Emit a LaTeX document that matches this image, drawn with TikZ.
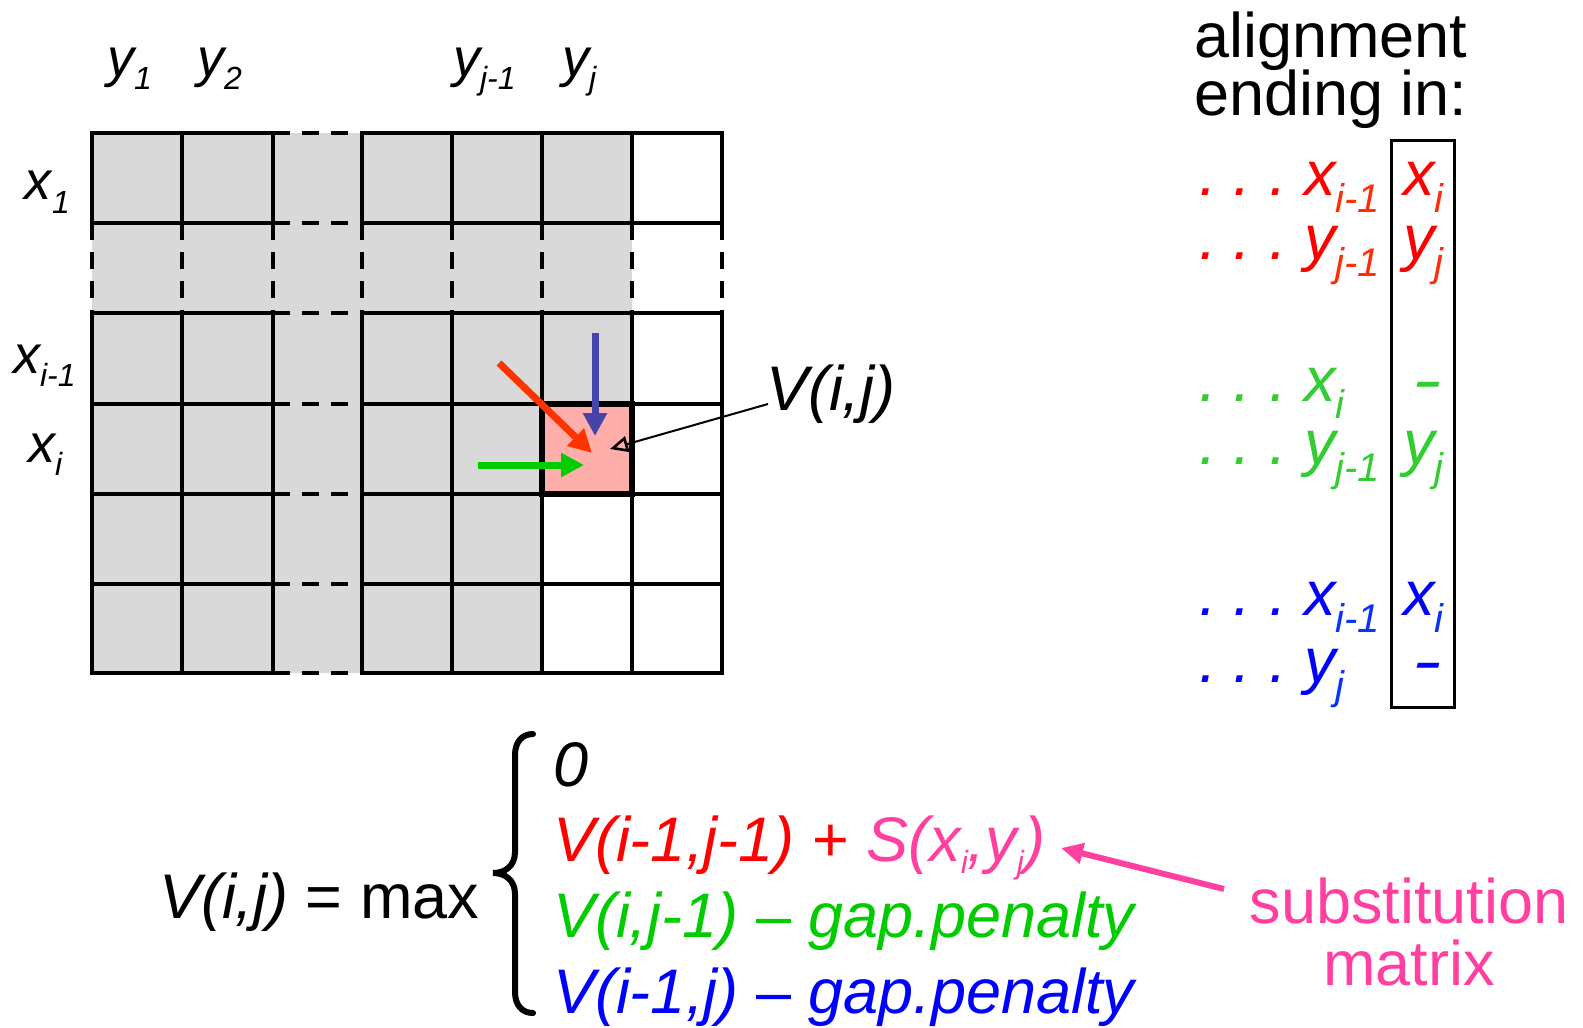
\documentclass[tikz,border=0pt]{standalone}
\usepackage{fontspec}
\usepackage{graphicx}
\setmainfont{Liberation Sans}
\usetikzlibrary{arrows.meta}
\definecolor{cellgray}{RGB}{217,217,217}
\definecolor{cellpink}{RGB}{255,174,170}
\definecolor{arrblue}{RGB}{68,68,170}
\definecolor{arrred}{RGB}{255,51,0}
\definecolor{arrgreen}{RGB}{0,204,0}
\definecolor{fred}{RGB}{255,0,0}
\definecolor{fredsub}{RGB}{255,45,10}
\definecolor{fgreen}{RGB}{0,204,0}
\definecolor{cgreen}{RGB}{51,204,51}
\definecolor{fblue}{RGB}{0,0,255}
\definecolor{fbluesub}{RGB}{10,50,255}
\definecolor{fpink}{RGB}{255,64,160}
\newcommand{\lowsub}[3]{\raisebox{-#1}{\fontsize{#2}{#2}\selectfont #3}}
\newcommand{\lbltxt}{\fontsize{27pt}{30pt}\selectfont\itshape}
\newcommand{\lblsub}[1]{\lowsub{6.5pt}{16pt}{#1}}
\newcommand{\fbig}{\fontsize{31.5pt}{36pt}\selectfont}
\newcommand{\rsub}[1]{\lowsub{8.5pt}{20pt}{#1}}
\newcommand{\fsub}[1]{\lowsub{6pt}{16pt}{#1}}
\newcommand{\gapbar}{\scalebox{1.4}[1]{-}}
\tikzset{
  txt/.style={inner sep=0pt, outer sep=0pt, anchor=base west},
  gridline/.style={line width=2pt, line cap=rect},
  gdash/.style={line width=2pt, dash pattern=on 8.5pt off 6pt},
  fatarrow/.style={line width=3.5pt, -{Triangle[length=11.5pt,width=11.5pt]}},
  ptrarrow/.style={line width=1pt, -{Triangle[open,length=9pt,width=8pt,line width=1.3pt]}},
  pinkarrow/.style={line width=3pt, draw=fpink, -{Triangle[length=11pt,width=10pt]}},
}
\begin{document}
\frenchspacing
\begin{tikzpicture}[x=0.5pt,y=-0.5pt]
\useasboundingbox (0,0) rectangle (1583,1027);
\fill[white] (0,0) rectangle (1583,1027);
% fills
\fill[cellgray] (92,133) rectangle (632,404);
\fill[cellgray] (92,404) rectangle (542,673);
% grid
\foreach \yy in {133,223,313,404,494,584,673}{
  \draw[gridline] (92,\yy) -- (273,\yy);
  \draw[gdash] (273,\yy) -- (362,\yy);
  \draw[gridline] (362,\yy) -- (722,\yy);
}
\foreach \xx in {92,182,273,362,452,542,632,722}{
  \draw[gridline] (\xx,133) -- (\xx,223);
  \draw[gdash] (\xx,223) -- (\xx,313);
  \draw[gridline] (\xx,313) -- (\xx,673);
}
% current cell
\node[draw, line width=3.3pt, fill=cellpink, minimum size=45pt, inner sep=0pt] (vij) at (587,449) {};
% arrows into the cell
\coordinate (bluefrom) at (595,333);
\coordinate (blueto) at (595,436);
\coordinate (redfrom) at (499,363);
\coordinate (redto) at (592,453);
\coordinate (greenfrom) at (478,465);
\coordinate (greento) at (584,465);
\draw[fatarrow, draw=arrblue, fill=arrblue] (bluefrom) -- (blueto);
\draw[fatarrow, draw=arrred, fill=arrred] (redfrom) -- (redto);
\draw[fatarrow, draw=arrgreen, fill=arrgreen] (greenfrom) -- (greento);
% V(i,j) label
\node[txt] (vlab) at (766,410) {\fbig\itshape V(i,j)};
\coordinate (vptr) at (768,404);
\coordinate (vtip) at (610,449);
\draw[ptrarrow] (vptr) -- (vtip);
% column labels
\node[txt] (ly1) at (107,77) {\lbltxt y\lblsub{1}};
\node[txt] (ly2) at (197,77) {\lbltxt y\lblsub{2}};
\node[txt] (lyj1) at (453,77) {\lbltxt y\lblsub{j-1}};
\node[txt] (lyj) at (562,77) {\lbltxt y\lblsub{j}};
% row labels
\node[txt] (lx1) at (25,200) {\lbltxt x\lblsub{1}};
\node[txt] (lxi1) at (13,373) {\lbltxt x\lblsub{i-1}};
\node[txt] (lxi) at (28,462) {\lbltxt x\lblsub{i}};
% right column
\node[txt] (al1) at (1194,58) {\fbig alignment};
\node[txt] (al2) at (1194,116) {\fbig ending in:};
\node[draw, line width=1.5pt, inner sep=0pt, minimum width=31.5pt, minimum height=283pt] (endbox) at (1422.5,424) {};
\node[txt, text=fred] (r1) at (1199,196) {\fbig\itshape . . . x\textcolor{fredsub}{\rsub{i-1}}};
\node[txt, text=fred] (r1b) at (1403,196) {\fbig\itshape x\textcolor{fredsub}{\rsub{i}}};
\node[txt, text=fred] (r2) at (1199,259) {\fbig\itshape . . . y\textcolor{fredsub}{\rsub{j-1}}};
\node[txt, text=fred] (r2b) at (1403,259) {\fbig\itshape y\textcolor{fredsub}{\rsub{j}}};
\node[txt, text=cgreen] (g1) at (1199,401) {\fbig\itshape . . . x\rsub{i}};
\node[txt, text=cgreen] (g1b) at (1412,401) {\fbig\itshape \gapbar};
\node[txt, text=cgreen] (g2) at (1199,464) {\fbig\itshape . . . y\rsub{j-1}};
\node[txt, text=cgreen] (g2b) at (1403,464) {\fbig\itshape y\rsub{j}};
\node[txt, text=fblue] (b1) at (1199,615) {\fbig\itshape . . . x\textcolor{fbluesub}{\rsub{i-1}}};
\node[txt, text=fblue] (b1b) at (1403,615) {\fbig\itshape x\textcolor{fbluesub}{\rsub{i}}};
\node[txt, text=fblue] (b2) at (1199,682) {\fbig\itshape . . . y\textcolor{fbluesub}{\rsub{j}}};
\node[txt, text=fblue] (b2b) at (1412,682) {\fbig\itshape \gapbar};
% formula
\node[txt] (fmax) at (159,918) {\fbig\textit{V(i,j)} = max};
\draw[line width=3pt, line cap=round] (533,734) .. controls (522,734) and (515,742) .. (515,755) -- (515,852) .. controls (515,866) and (505,873) .. (493,873) .. controls (505,873) and (515,880) .. (515,894) -- (515,992) .. controls (515,1005) and (522,1013) .. (533,1013);
\node[txt] (f0) at (553,786) {\fbig\itshape 0};
\node[txt, text=fred] (f1) at (553,861) {\fbig\textit{V(i-1,j-1)} + \textcolor{fpink}{\itshape S(x\fsub{i},y\fsub{j})}};
\node[txt, text=fgreen] (f2) at (553,937) {\fbig\textit{V(i,j-1)} – \textit{gap.penalty}};
\node[txt, text=fblue] (f3) at (553,1013) {\fbig\textit{V(i-1,j)} – \textit{gap.penalty}};
% substitution matrix
\node[inner sep=0pt, anchor=base, text=fpink] (subs1) at (1409,923) {\fbig substitution};
\node[inner sep=0pt, anchor=base, text=fpink] (subs2) at (1409,985) {\fbig matrix};
\coordinate (ptail) at (1224,889);
\coordinate (ptip) at (1061,848);
\draw[pinkarrow] (ptail) -- (ptip);
\end{tikzpicture}
\end{document}
